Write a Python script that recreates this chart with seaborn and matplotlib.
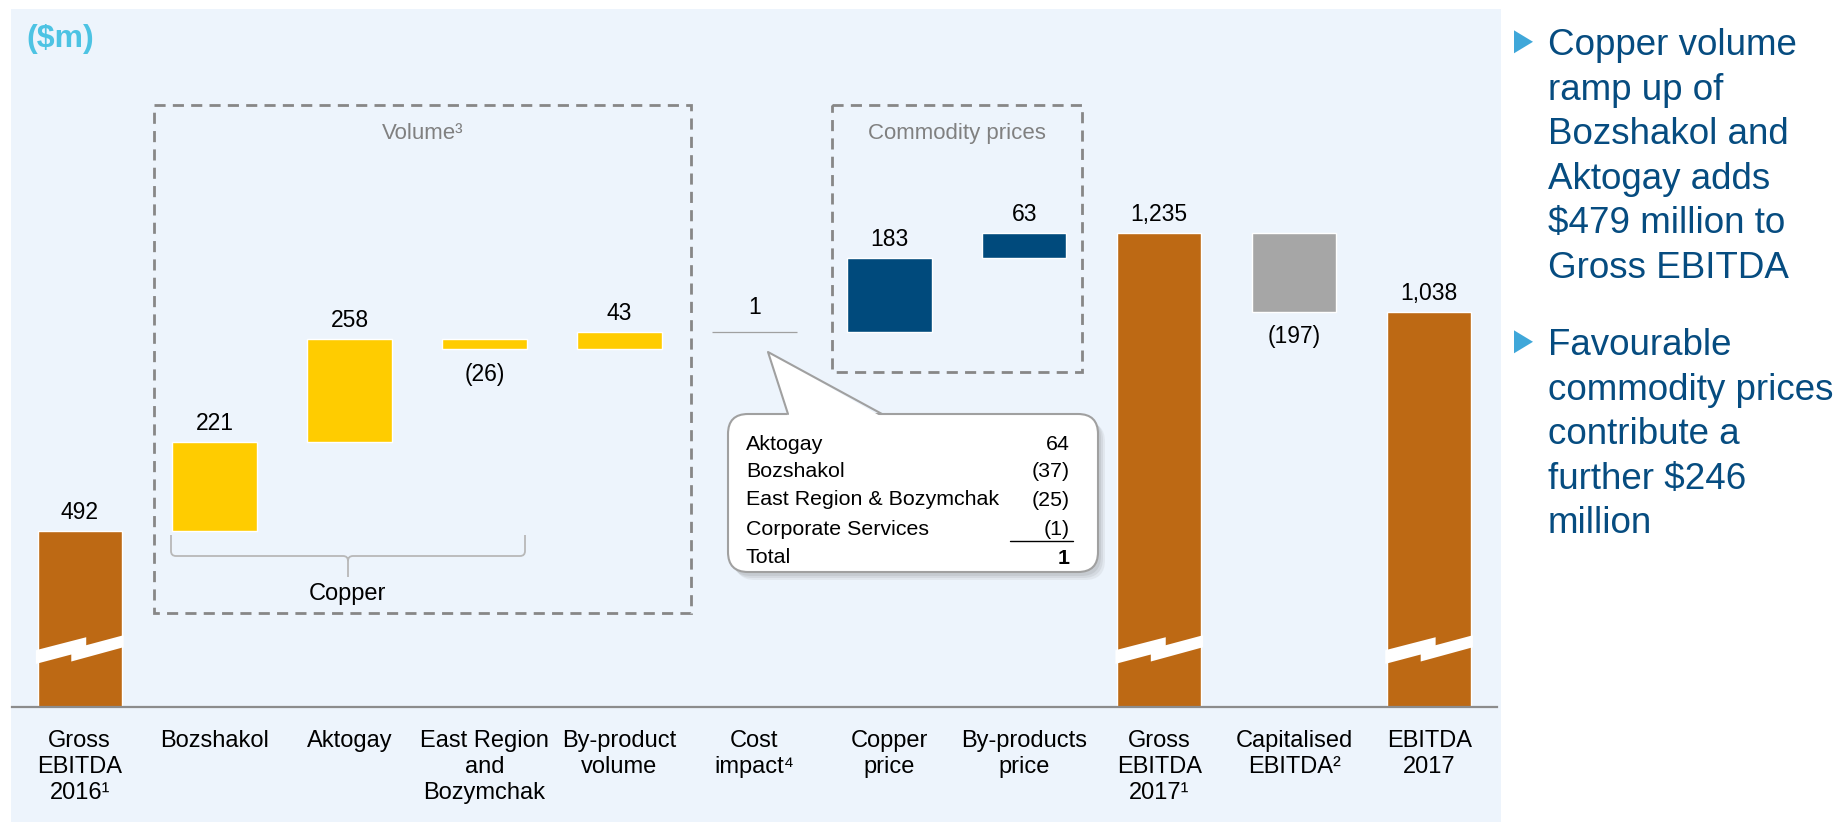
import matplotlib
matplotlib.use("Agg")
import matplotlib.pyplot as plt
import numpy as np
import pandas as pd
import seaborn as sns
from matplotlib.patches import Rectangle, FancyBboxPatch, Polygon, PathPatch
from matplotlib.lines import Line2D
from matplotlib.path import Path
from matplotlib.transforms import Affine2D

# ---------------- data ----------------
categories = ["Gross\nEBITDA\n2016¹", "Bozshakol", "Aktogay", "East Region\nand\nBozymchak",
              "By-product\nvolume", "Cost\nimpact⁴", "Copper\nprice", "By-products\nprice",
              "Gross\nEBITDA\n2017¹", "Capitalised\nEBITDA²", "EBITDA\n2017"]
step_values = [492, 221, 258, -26, 43, 1, 183, 63, 1235, -197, 1038]
step_kinds = ["total", "copper", "copper", "copper", "copper", "cost",
              "price", "price", "total", "capex", "total"]

callout_items = ["Aktogay", "Bozshakol", "East Region & Bozymchak", "Corporate Services"]
callout_values = [64, -37, -25, -1]
callout_total_label = "Total"
callout_total = 1

bullet_1 = ["Copper volume", "ramp up of", "Bozshakol and", "Aktogay adds",
            "$479 million to", "Gross EBITDA"]
bullet_2 = ["Favourable", "commodity prices", "contribute a", "further $246", "million"]

unit_label = "($m)"
group_labels = ["Volume³", "Commodity prices"]
bracket_label = "Copper"

# ---------------- style ----------------
kind_colors = {"total": "#BD6914", "copper": "#FFCC00", "cost": "#A6A6A6",
               "price": "#004A7C", "capex": "#A6A6A6"}
PANEL = "#EDF4FC"
NAVY_TEXT = "#064C80"

sns.set_theme(style="white")
plt.rcParams["font.family"] = ["Liberation Sans", "DejaVu Sans"]

# ---------------- waterfall geometry ----------------
running = 0
bottoms, heights = [], []
for v, k in zip(step_values, step_kinds):
    if k == "total":
        bottoms.append(0)
        heights.append(v)
        running = v
    else:
        if v >= 0:
            bottoms.append(running)
            heights.append(v)
        else:
            bottoms.append(running + v)
            heights.append(-v)
        running += v

df = pd.DataFrame({"step": categories, "height": heights, "bottom": bottoms,
                   "kind": step_kinds})
palette = {c: kind_colors[k] for c, k in zip(categories, step_kinds)}

W, H = 1844, 822
fig = plt.figure(figsize=(W / 100, H / 100), dpi=100)
fig.patch.set_facecolor("white")
PX = Affine2D().scale(1, -1).translate(0, H)  # top-left pixel coordinates

# light blue panel
fig.add_artist(Rectangle((11, 9), 1490, 813, transform=PX, facecolor=PANEL,
                         edgecolor="none", zorder=-5))

ax_left, ax_right, base_px, top_px = 12.25, 1496.6, 707, 9
ax = fig.add_axes([ax_left / W, (H - base_px) / H, (ax_right - ax_left) / W,
                   (base_px - top_px) / H])
ax.set_facecolor("none")

bw = 0.625
sns.barplot(data=df, x="step", y="height", hue="step", palette=palette,
            order=categories, hue_order=categories, width=bw, saturation=1,
            legend=False, ax=ax, errorbar=None)

# float bars to their waterfall positions
for p in ax.patches:
    i = int(round(p.get_x() + p.get_width() / 2))
    p.set_y(bottoms[i])
    p.set_height(heights[i])
    if step_kinds[i] == "cost":
        p.set_edgecolor("#A0A0A0")
        p.set_linewidth(0.9)

y_floor = 53
ax.set_ylim(y_floor, y_floor + (base_px - top_px) / 0.401)
ax.set_xlim(-0.5, len(categories) - 0.5)
ax.set_xlabel("")
ax.set_ylabel("")
ax.set_yticks([])
for s in ["left", "right", "top"]:
    ax.spines[s].set_visible(False)
ax.spines["bottom"].set_color("#8C8C8C")
ax.spines["bottom"].set_linewidth(1.6)
ax.tick_params(axis="x", length=0, pad=16.5, labelsize=17, labelcolor="black")
for t in ax.get_xticklabels():
    t.set_linespacing(1.25)

# value labels
for i, (v, b, h) in enumerate(zip(step_values, bottoms, heights)):
    lab = f"{abs(v):,}" if v >= 0 else f"({abs(v):,})"
    if v >= 0:
        off = 13 if step_kinds[i] == "cost" else 8.6
        ax.annotate(lab, xy=(i, b + h), xytext=(0, off), textcoords="offset points",
                    ha="center", va="baseline", fontsize=16.5, color="black")
    else:
        ax.annotate(lab, xy=(i, b), xytext=(0, -22.5), textcoords="offset points",
                    ha="center", va="baseline", fontsize=16.5, color="black")

# axis-break lightning marks on the total bars
break_at = 232
fx = [-0.02, .577, .577, 1.02, 1.02, .4, .4, -0.02]
fy = [15, 2, 10, 0, 12, 26.3, 19.3, 28.7]
for i, k in enumerate(step_kinds):
    if k != "total":
        continue
    xl, yd = ax.transData.transform((i - bw / 2, break_at))
    xr, _ = ax.transData.transform((i + bw / 2, break_at))
    wb = xr - xl
    ytop = H - yd
    pts = [(xl + f * wb, ytop + d) for f, d in zip(fx, fy)]
    fig.add_artist(Polygon(pts, closed=True, transform=PX, facecolor="white",
                           edgecolor="none", zorder=4))

# dashed group boxes
dash = (0, (4, 2.6))
fig.add_artist(Rectangle((154, 105), 537, 508, transform=PX, fill=False,
                         edgecolor="#878787", lw=2, linestyle=dash, zorder=3))
fig.add_artist(Rectangle((832, 105), 250, 267, transform=PX, fill=False,
                         edgecolor="#878787", lw=2, linestyle=dash, zorder=3))
fig.text(423, 139, group_labels[0], transform=PX, ha="center", va="baseline",
         fontsize=16, color="#808080")
fig.text(957, 139, group_labels[1], transform=PX, ha="center", va="baseline",
         fontsize=16, color="#808080")

# copper bracket
verts = [(171, 535), (171, 551), (171, 556), (176, 556), (343, 556), (348, 556),
         (348, 561), (348, 577),
         (348, 561), (348, 556), (353, 556), (520, 556), (525, 556), (525, 551), (525, 535)]
codes = [Path.MOVETO, Path.LINETO, Path.CURVE3, Path.CURVE3, Path.LINETO, Path.CURVE3,
         Path.CURVE3, Path.LINETO,
         Path.MOVETO, Path.CURVE3, Path.CURVE3, Path.LINETO, Path.CURVE3, Path.CURVE3,
         Path.LINETO]
fig.add_artist(PathPatch(Path(verts, codes), transform=PX, fill=False,
                         edgecolor="#B8B8B8", lw=1.3, zorder=3))
fig.text(347, 600, bracket_label, transform=PX, ha="center", va="baseline",
         fontsize=17, color="black")

# unit label
fig.text(26, 47, unit_label, transform=PX, ha="left", va="baseline", fontsize=23,
         fontweight="bold", color="#4DC3E3")

# callout
cx0, cy0, cw, ch = 728, 414, 370, 158
box = "round,pad=0,rounding_size=20"
for k, a in enumerate([0.10, 0.09, 0.08]):
    off = 3 + 2 * k
    fig.add_artist(FancyBboxPatch((cx0 + off, cy0 + off + 1), cw, ch, boxstyle=box,
                                  transform=PX, facecolor="#555555", edgecolor="none",
                                  alpha=a, zorder=5))
fig.add_artist(FancyBboxPatch((cx0, cy0), cw, ch, boxstyle=box, transform=PX,
                              facecolor="white", edgecolor="#A0A0A0", lw=1.5, zorder=6))
fig.add_artist(Polygon([(768, 352), (788, 417), (882, 417)], closed=True, transform=PX,
                       facecolor="white", edgecolor="none", zorder=7))
fig.add_artist(Line2D([788, 768, 882], [414, 352, 414], transform=PX, color="#A0A0A0",
                      lw=1.5, zorder=8))

name_base = [450, 477, 505, 535]
val_base = [450, 477, 506, 535]
for nm, v, nb, vb in zip(callout_items, callout_values, name_base, val_base):
    fig.text(746, nb, nm, transform=PX, ha="left", va="baseline", fontsize=15.4,
             color="black", zorder=9)
    lab = f"{v}" if v >= 0 else f"({abs(v)})"
    fig.text(1070, vb, lab, transform=PX, ha="right", va="baseline", fontsize=15.4,
             color="black", zorder=9)
fig.add_artist(Line2D([1010, 1073], [541, 541], transform=PX, color="black", lw=1,
                      zorder=9))
fig.text(746, 563, callout_total_label, transform=PX, ha="left", va="baseline",
         fontsize=15.4, color="black", zorder=9)
fig.text(1070, 564, f"{callout_total}", transform=PX, ha="right", va="baseline",
         fontsize=15.4, fontweight="bold", color="black", zorder=9)

# right-hand commentary
for lines, y0 in [(bullet_1, 55.3), (bullet_2, 355.3)]:
    tri_c = y0 - 13.5
    fig.add_artist(Polygon([(1514, tri_c - 11.5), (1514, tri_c + 11.5), (1533, tri_c)],
                           closed=True, transform=PX, facecolor="#3FA7D9",
                           edgecolor="none", zorder=5))
    for j, line in enumerate(lines):
        fig.text(1548, y0 + 44.5 * j, line, transform=PX, ha="left", va="baseline",
                 fontsize=26.5, color=NAVY_TEXT)

fig.savefig("out.png", dpi=100)
